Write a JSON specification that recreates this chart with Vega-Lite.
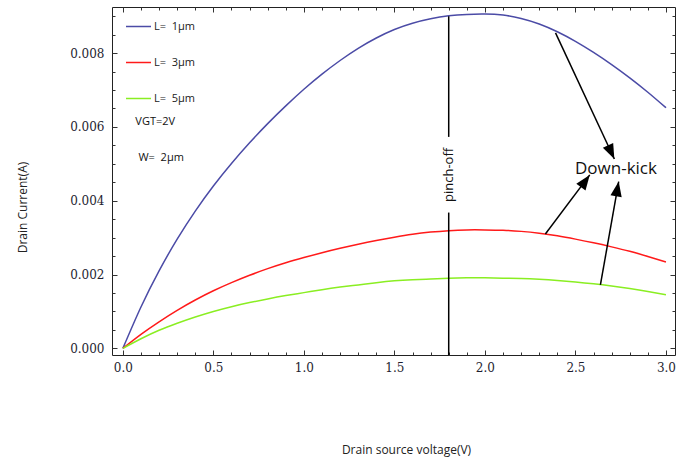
{
  "$schema": "https://vega.github.io/schema/vega-lite/v6.json",
  "width": 563,
  "height": 348,
  "autosize": {"type": "none"},
  "padding": {"left": 112, "top": 7, "right": 16, "bottom": 106},
  "background": "white",
  "config": {
    "view": {"stroke": "#222", "strokeWidth": 1},
    "axis": {"domain": false, "grid": false, "tickColor": "#333", "tickWidth": 1, "labelFont": "DejaVu Serif", "labelFontSize": 12, "labelColor": "#1e1e30", "titleFont": "Open Sans", "titleFontSize": 12, "titleFontWeight": "normal", "titleColor": "#222"}
  },
  "datasets": {
    "curves": [
      {"V": 0.0, "I": 0, "L": "1"}, {"V": 0.1, "I": 0.00112, "L": "1"}, {"V": 0.2, "I": 0.0021, "L": "1"}, {"V": 0.3, "I": 0.00296, "L": "1"}, {"V": 0.4, "I": 0.00372, "L": "1"}, {"V": 0.5, "I": 0.0044, "L": "1"}, {"V": 0.6, "I": 0.00501, "L": "1"}, {"V": 0.7, "I": 0.00557, "L": "1"}, {"V": 0.8, "I": 0.00609, "L": "1"}, {"V": 0.9, "I": 0.00657, "L": "1"}, {"V": 1.0, "I": 0.00702, "L": "1"}, {"V": 1.1, "I": 0.00743, "L": "1"}, {"V": 1.2, "I": 0.0078, "L": "1"}, {"V": 1.3, "I": 0.00813, "L": "1"}, {"V": 1.4, "I": 0.00841, "L": "1"}, {"V": 1.5, "I": 0.00864, "L": "1"}, {"V": 1.6, "I": 0.00881, "L": "1"}, {"V": 1.7, "I": 0.00893, "L": "1"}, {"V": 1.8, "I": 0.00901, "L": "1"}, {"V": 1.9, "I": 0.00905, "L": "1"}, {"V": 2.0, "I": 0.00906, "L": "1"}, {"V": 2.1, "I": 0.00903, "L": "1"}, {"V": 2.2, "I": 0.00894, "L": "1"}, {"V": 2.3, "I": 0.00879, "L": "1"}, {"V": 2.4, "I": 0.00858, "L": "1"}, {"V": 2.5, "I": 0.00832, "L": "1"}, {"V": 2.6, "I": 0.00802, "L": "1"}, {"V": 2.7, "I": 0.00769, "L": "1"}, {"V": 2.8, "I": 0.00733, "L": "1"}, {"V": 2.9, "I": 0.00694, "L": "1"}, {"V": 3.0, "I": 0.00652, "L": "1"},
      {"V": 0.0, "I": 0, "L": "3"}, {"V": 0.1, "I": 0.00038, "L": "3"}, {"V": 0.2, "I": 0.00072, "L": "3"}, {"V": 0.3, "I": 0.00103, "L": "3"}, {"V": 0.4, "I": 0.00131, "L": "3"}, {"V": 0.5, "I": 0.00156, "L": "3"}, {"V": 0.6, "I": 0.00178, "L": "3"}, {"V": 0.7, "I": 0.00198, "L": "3"}, {"V": 0.8, "I": 0.00216, "L": "3"}, {"V": 0.9, "I": 0.00232, "L": "3"}, {"V": 1.0, "I": 0.00246, "L": "3"}, {"V": 1.1, "I": 0.00259, "L": "3"}, {"V": 1.2, "I": 0.00271, "L": "3"}, {"V": 1.3, "I": 0.00282, "L": "3"}, {"V": 1.4, "I": 0.00292, "L": "3"}, {"V": 1.5, "I": 0.00301, "L": "3"}, {"V": 1.6, "I": 0.00309, "L": "3"}, {"V": 1.7, "I": 0.00315, "L": "3"}, {"V": 1.8, "I": 0.00319, "L": "3"}, {"V": 1.9, "I": 0.00321, "L": "3"}, {"V": 2.0, "I": 0.00321, "L": "3"}, {"V": 2.1, "I": 0.0032, "L": "3"}, {"V": 2.2, "I": 0.00317, "L": "3"}, {"V": 2.3, "I": 0.00312, "L": "3"}, {"V": 2.4, "I": 0.00305, "L": "3"}, {"V": 2.5, "I": 0.00296, "L": "3"}, {"V": 2.6, "I": 0.00286, "L": "3"}, {"V": 2.7, "I": 0.00275, "L": "3"}, {"V": 2.8, "I": 0.00263, "L": "3"}, {"V": 2.9, "I": 0.00249, "L": "3"}, {"V": 3.0, "I": 0.00234, "L": "3"},
      {"V": 0.0, "I": 0, "L": "5"}, {"V": 0.1, "I": 0.00026, "L": "5"}, {"V": 0.2, "I": 0.00049, "L": "5"}, {"V": 0.3, "I": 0.00068, "L": "5"}, {"V": 0.4, "I": 0.00085, "L": "5"}, {"V": 0.5, "I": 0.001, "L": "5"}, {"V": 0.6, "I": 0.00113, "L": "5"}, {"V": 0.7, "I": 0.00124, "L": "5"}, {"V": 0.8, "I": 0.00134, "L": "5"}, {"V": 0.9, "I": 0.00143, "L": "5"}, {"V": 1.0, "I": 0.00151, "L": "5"}, {"V": 1.1, "I": 0.00159, "L": "5"}, {"V": 1.2, "I": 0.00166, "L": "5"}, {"V": 1.3, "I": 0.00172, "L": "5"}, {"V": 1.4, "I": 0.00178, "L": "5"}, {"V": 1.5, "I": 0.00183, "L": "5"}, {"V": 1.6, "I": 0.00186, "L": "5"}, {"V": 1.7, "I": 0.00188, "L": "5"}, {"V": 1.8, "I": 0.0019, "L": "5"}, {"V": 1.9, "I": 0.00191, "L": "5"}, {"V": 2.0, "I": 0.00191, "L": "5"}, {"V": 2.1, "I": 0.0019, "L": "5"}, {"V": 2.2, "I": 0.00189, "L": "5"}, {"V": 2.3, "I": 0.00187, "L": "5"}, {"V": 2.4, "I": 0.00184, "L": "5"}, {"V": 2.5, "I": 0.0018, "L": "5"}, {"V": 2.6, "I": 0.00175, "L": "5"}, {"V": 2.7, "I": 0.00169, "L": "5"}, {"V": 2.8, "I": 0.00162, "L": "5"}, {"V": 2.9, "I": 0.00154, "L": "5"}, {"V": 3.0, "I": 0.00145, "L": "5"}
    ],
    "pinch": [
      {"V": 1.8, "I": 0.009, "I2": 0.00573},
      {"V": 1.8, "I": 0.00368, "I2": -0.00018}
    ],
    "arrows": [
      {"V": 2.39, "I": 0.00855, "V2": 2.715, "I2": 0.00513},
      {"V": 2.334, "I": 0.0031, "V2": 2.579, "I2": 0.0047},
      {"V": 2.638, "I": 0.00172, "V2": 2.739, "I2": 0.00452}
    ]
  },
  "layer": [
    {
      "data": {"name": "curves"},
      "mark": {"type": "line", "strokeWidth": 1.5, "interpolate": "natural"},
      "encoding": {
        "x": {"field": "V", "type": "quantitative", "scale": {"domain": [-0.06, 3.05], "nice": false, "zero": false},
          "axis": {"orient": "bottom", "values": [0, 0.5, 1, 1.5, 2, 2.5, 3], "format": ".1f", "tickSize": -5, "labelPadding": 12, "labelFont": "DejaVu Serif", "labelFontSize": 12, "title": "Drain source voltage(V)", "titleX": 294, "titleY": 94, "titleBaseline": "middle", "titleAlign": "center"}},
        "y": {"field": "I", "type": "quantitative", "scale": {"domain": [-0.00018, 0.00925], "nice": false, "zero": false},
          "axis": {"orient": "left", "values": [0, 0.002, 0.004, 0.006, 0.008], "format": ".3f", "tickSize": -5, "labelPadding": 13, "labelFont": "DejaVu Serif", "labelFontSize": 12, "title": "Drain Current(A)", "titleX": -90, "titleY": 200, "titleAngle": -90, "titleBaseline": "middle", "titleAlign": "center"}},
        "color": {"field": "L", "type": "nominal", "scale": {"domain": ["1", "3", "5"], "range": ["#4b4ba6", "#ff1a1a", "#8aee22"]},
          "legend": {"orient": "none", "legendX": 13, "legendY": 6, "title": null, "symbolType": "stroke", "symbolSize": 625, "symbolStrokeWidth": 1.5, "rowPadding": 17, "labelOffset": 2, "padding": 0, "labelFont": "Open Sans", "labelFontSize": 11, "labelColor": "#222",
            "labelExpr": "'L=\u00a0 ' + datum.label + 'µm'",
            "encode": {"symbols": {"update": {"stroke": {"signal": "datum.value == '1' ? '#4a7ebb' : datum.value == '3' ? '#c0504d' : '#9bbb59'"}}}}}}
      }
    },
    {
      "data": {"name": "pinch"},
      "mark": {"type": "rule", "color": "black", "strokeWidth": 1.5},
      "encoding": {
        "x": {"field": "V", "type": "quantitative", "scale": {"domain": [-0.06, 3.05], "nice": false, "zero": false},
          "axis": {"orient": "top", "values": [0, 0.5, 1, 1.5, 2, 2.5, 3], "labels": false, "tickSize": -5, "title": null}},
        "y": {"field": "I", "type": "quantitative", "scale": {"domain": [-0.00018, 0.00925], "nice": false, "zero": false},
          "axis": {"orient": "right", "values": [0, 0.002, 0.004, 0.006, 0.008], "labels": false, "tickSize": -5, "title": null}},
        "y2": {"field": "I2"}
      }
    },
    {
      "data": {"name": "arrows"},
      "mark": {"type": "rule", "color": "black", "strokeWidth": 1.5},
      "encoding": {
        "x": {"field": "V", "type": "quantitative", "scale": {"domain": [-0.06, 3.05], "nice": false, "zero": false},
          "axis": {"orient": "bottom", "values": [0.1, 0.2, 0.3, 0.4, 0.6, 0.7, 0.8, 0.9, 1.1, 1.2, 1.3, 1.4, 1.6, 1.7, 1.8, 1.9, 2.1, 2.2, 2.3, 2.4, 2.6, 2.7, 2.8, 2.9], "labels": false, "tickSize": -3, "title": null}},
        "y": {"field": "I", "type": "quantitative", "scale": {"domain": [-0.00018, 0.00925], "nice": false, "zero": false},
          "axis": {"orient": "left", "values": [0.0005, 0.001, 0.0015, 0.0025, 0.003, 0.0035, 0.0045, 0.005, 0.0055, 0.0065, 0.007, 0.0075, 0.0085, 0.009], "labels": false, "tickSize": -3, "title": null}},
        "x2": {"field": "V2"},
        "y2": {"field": "I2"}
      }
    },
    {
      "data": {"values": [{"V": 2.715, "I": 0.00513}]},
      "mark": {"type": "point", "shape": "M0,0 L-0.38,1 L0.38,1 Z", "size": 900, "angle": 155, "filled": true, "color": "black", "opacity": 1},
      "encoding": {
        "x": {"field": "V", "type": "quantitative", "scale": {"domain": [-0.06, 3.05], "nice": false, "zero": false},
          "axis": {"orient": "top", "values": [0.1, 0.2, 0.3, 0.4, 0.6, 0.7, 0.8, 0.9, 1.1, 1.2, 1.3, 1.4, 1.6, 1.7, 1.8, 1.9, 2.1, 2.2, 2.3, 2.4, 2.6, 2.7, 2.8, 2.9], "labels": false, "tickSize": -3, "title": null}},
        "y": {"field": "I", "type": "quantitative", "scale": {"domain": [-0.00018, 0.00925], "nice": false, "zero": false},
          "axis": {"orient": "right", "values": [0.0005, 0.001, 0.0015, 0.0025, 0.003, 0.0035, 0.0045, 0.005, 0.0055, 0.0065, 0.007, 0.0075, 0.0085, 0.009], "labels": false, "tickSize": -3, "title": null}}
      }
    },
    {
      "data": {"values": [{"V": 2.579, "I": 0.0047}]},
      "mark": {"type": "point", "shape": "M0,0 L-0.38,1 L0.38,1 Z", "size": 900, "angle": 36, "filled": true, "color": "black", "opacity": 1},
      "encoding": {
        "x": {"field": "V", "type": "quantitative", "scale": {"domain": [-0.06, 3.05], "nice": false, "zero": false}, "axis": null},
        "y": {"field": "I", "type": "quantitative", "scale": {"domain": [-0.00018, 0.00925], "nice": false, "zero": false}, "axis": null}
      }
    },
    {
      "data": {"values": [{"V": 2.739, "I": 0.00452}]},
      "mark": {"type": "point", "shape": "M0,0 L-0.38,1 L0.38,1 Z", "size": 900, "angle": 10, "filled": true, "color": "black", "opacity": 1},
      "encoding": {
        "x": {"field": "V", "type": "quantitative", "scale": {"domain": [-0.06, 3.05], "nice": false, "zero": false}, "axis": null},
        "y": {"field": "I", "type": "quantitative", "scale": {"domain": [-0.00018, 0.00925], "nice": false, "zero": false}, "axis": null}
      }
    },
    {
      "data": {"values": [{"V": 1.8, "I": 0.0047, "t": "pinch-off"}]},
      "mark": {"type": "text", "angle": 270, "font": "Open Sans", "fontSize": 13, "color": "#111", "align": "center", "baseline": "middle"},
      "encoding": {
        "x": {"field": "V", "type": "quantitative", "scale": {"domain": [-0.06, 3.05], "nice": false, "zero": false}, "axis": null},
        "y": {"field": "I", "type": "quantitative", "scale": {"domain": [-0.00018, 0.00925], "nice": false, "zero": false}, "axis": null},
        "text": {"field": "t"}
      }
    },
    {
      "data": {"values": [{"V": 2.724, "I": 0.00486, "t": "Down-kick"}]},
      "mark": {"type": "text", "font": "Open Sans", "fontSize": 17, "color": "#111", "align": "center", "baseline": "middle"},
      "encoding": {
        "x": {"field": "V", "type": "quantitative", "scale": {"domain": [-0.06, 3.05], "nice": false, "zero": false}, "axis": null},
        "y": {"field": "I", "type": "quantitative", "scale": {"domain": [-0.00018, 0.00925], "nice": false, "zero": false}, "axis": null},
        "text": {"field": "t"}
      }
    },
    {
      "data": {"values": [{"V": 0.069, "I": 0.00614, "t": "VGT=2V"}, {"V": 0.086, "I": 0.00517, "t": "W=\u00a0 2µm"}]},
      "mark": {"type": "text", "font": "Open Sans", "fontSize": 11, "color": "#111", "align": "left", "baseline": "middle"},
      "encoding": {
        "x": {"field": "V", "type": "quantitative", "scale": {"domain": [-0.06, 3.05], "nice": false, "zero": false}, "axis": null},
        "y": {"field": "I", "type": "quantitative", "scale": {"domain": [-0.00018, 0.00925], "nice": false, "zero": false}, "axis": null},
        "text": {"field": "t"}
      }
    }
  ],
  "resolve": {"axis": {"x": "independent", "y": "independent"}}
}
